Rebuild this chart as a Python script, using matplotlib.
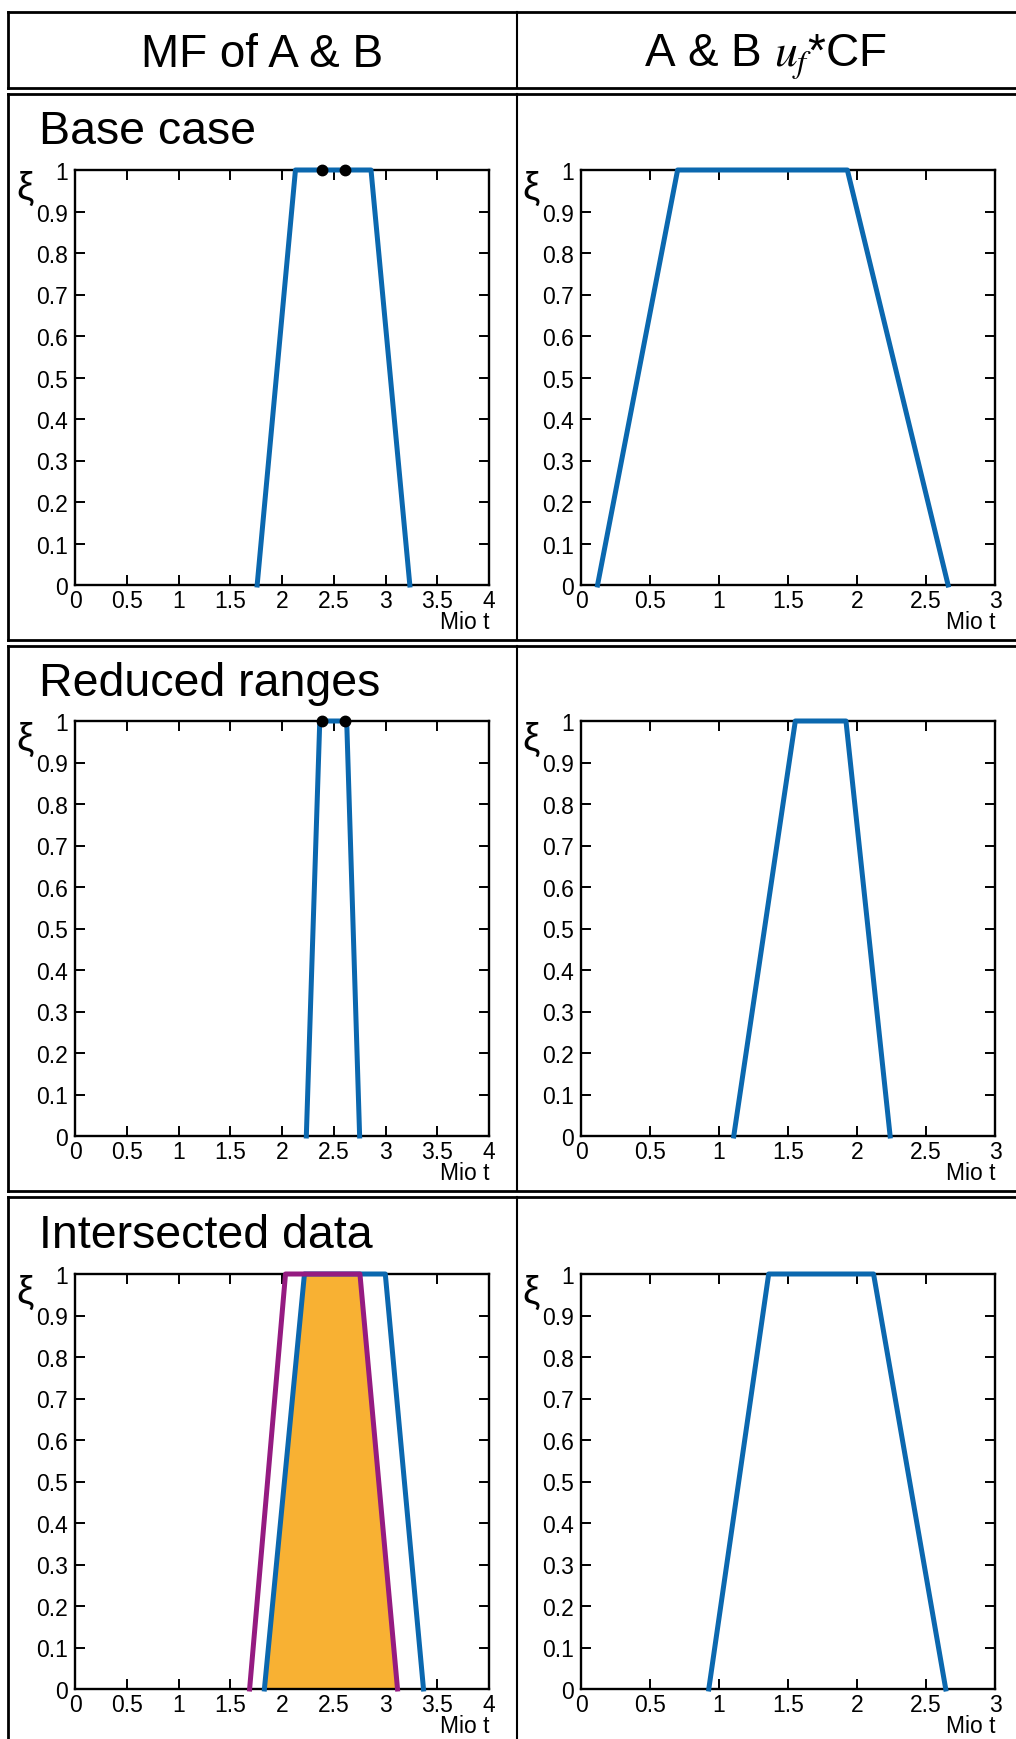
import matplotlib
matplotlib.use('Agg')
import matplotlib.pyplot as plt
from matplotlib.lines import Line2D

plt.rcParams['font.family'] = ['Liberation Sans', 'DejaVu Sans']
plt.rcParams['mathtext.fontset'] = 'stix'

W, H = 1016, 1740

# ---------------- data ----------------
col_headers = ['MF of A & B', 'A & B $u_f$*CF']
row_titles = ['Base case', 'Reduced ranges', 'Intersected data']

yticks = [0, 0.1, 0.2, 0.3, 0.4, 0.5, 0.6, 0.7, 0.8, 0.9, 1.0]
ytick_labels = ['0', '0.1', '0.2', '0.3', '0.4', '0.5', '0.6', '0.7', '0.8', '0.9', '1']
mf_xticks = [0, 0.5, 1, 1.5, 2, 2.5, 3, 3.5, 4]
mf_xtick_labels = ['0', '0.5', '1', '1.5', '2', '2.5', '3', '3.5', '4']
cf_xticks = [0, 0.5, 1, 1.5, 2, 2.5, 3]
cf_xtick_labels = ['0', '0.5', '1', '1.5', '2', '2.5', '3']

trap_y = [0, 1, 1, 0]

base_mf_x = [1.76, 2.13, 2.86, 3.235]
base_dots_x = [2.385, 2.605]
base_cf_x = [0.12, 0.70, 1.93, 2.66]

red_mf_x = [2.235, 2.365, 2.625, 2.75]
red_dots_x = [2.385, 2.605]
red_cf_x = [1.107, 1.553, 1.92, 2.24]

int_mf_blue_x = [1.83, 2.217, 2.998, 3.367]
int_mf_purple_x = [1.687, 2.034, 2.753, 3.116]
int_cf_x = [0.926, 1.36, 2.12, 2.643]

BLUE = '#0B68AF'
PURPLE = '#951B81'
ORANGE = '#F8B133'

fig = plt.figure(figsize=(W / 100, H / 100), dpi=100)


def add_ax(l, t, w, h):
    return fig.add_axes([l / W, 1 - (t + h) / H, w / W, h / H])


def style(ax, xmax, xt, xtl):
    ax.set_xlim(0, xmax)
    ax.set_ylim(0, 1)
    ax.set_xticks(xt)
    ax.set_xticklabels(xtl)
    ax.set_yticks(yticks)
    ax.set_yticklabels(ytick_labels)
    ax.tick_params(direction='in', length=7, width=1.4, top=True, right=True,
                   labelsize=16.5, colors='black')
    ax.tick_params(axis='x', pad=3)
    ax.tick_params(axis='y', pad=5)
    for s in ax.spines.values():
        s.set_linewidth(1.7)
    ax.text(-0.12, 0.958, 'ξ', ha='center', va='center',
            transform=ax.transAxes, fontsize=28)
    ax.text(1.0, -0.089, 'Mio t', ha='right', va='center',
            transform=ax.transAxes, fontsize=16.5)


row_tops = [171, 722, 1275]
AH = 415
LX, RX, AW = 75, 581, 414

mf_sets = [base_mf_x, red_mf_x, None]
dot_sets = [base_dots_x, red_dots_x, None]
cf_sets = [base_cf_x, red_cf_x, int_cf_x]
LW = 3.6

for i, top in enumerate(row_tops):
    axl = add_ax(LX, top, AW, AH)
    style(axl, 4, mf_xticks, mf_xtick_labels)
    if i < 2:
        axl.plot(mf_sets[i], trap_y, color=BLUE, lw=LW, clip_on=False, zorder=3)
        axl.plot(dot_sets[i], [1, 1], 'o', color='black', ms=7.5, clip_on=False, zorder=4)
    else:
        fx = [int_mf_blue_x[0], int_mf_blue_x[1], int_mf_purple_x[2], int_mf_purple_x[3]]
        axl.fill(fx, trap_y, color=ORANGE, lw=0, zorder=2)
        axl.plot(int_mf_blue_x, trap_y, color=BLUE, lw=LW, clip_on=False, zorder=3)
        axl.plot(int_mf_purple_x, trap_y, color=PURPLE, lw=LW, clip_on=False, zorder=3.5)

    axr = add_ax(RX, top, AW, AH)
    style(axr, 3, cf_xticks, cf_xtick_labels)
    axr.plot(cf_sets[i], trap_y, color=BLUE, lw=LW, clip_on=False, zorder=3)

# ---------------- table frame ----------------
def hline(y, x0=8, x1=1016, lw=2.0):
    fig.add_artist(Line2D([x0 / W, x1 / W], [1 - y / H, 1 - y / H],
                          transform=fig.transFigure, color='black', lw=lw))


def vline(x, y0, y1, lw=2.0):
    fig.add_artist(Line2D([x / W, x / W], [1 - y0 / H, 1 - y1 / H],
                          transform=fig.transFigure, color='black', lw=lw))


for y in [13, 89, 95, 641, 647, 1192, 1198]:
    hline(y)
for (y0, y1) in [(13, 89), (95, 641), (647, 1192), (1198, 1740)]:
    vline(8, y0, y1)
    vline(517, y0, y1, lw=1.5)

fig.text(262 / W, 1 - 67 / H, col_headers[0], ha='center', va='baseline', fontsize=33)
fig.text(766 / W, 1 - 67 / H, col_headers[1], ha='center', va='baseline', fontsize=33)

for title, base in zip(row_titles, [144, 696, 1248]):
    fig.text(39 / W, 1 - base / H, title, ha='left', va='baseline', fontsize=33.5)

fig.savefig('out.png', dpi=100)
